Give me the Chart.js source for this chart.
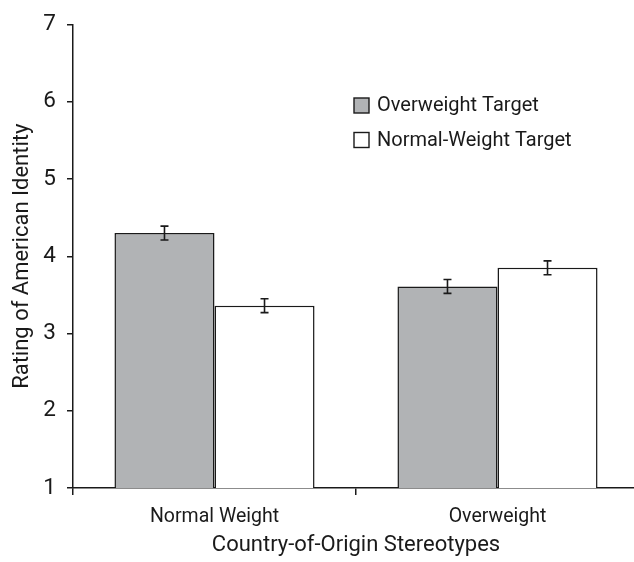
<!DOCTYPE html>
<html>
<head>
<meta charset="utf-8">
<script src="https://cdn.jsdelivr.net/npm/chart.js@4"></script>
<style>
    html, body { margin: 0; padding: 0; background: #fff; overflow: hidden; }
    #wrap { width: 634px; height: 562px; overflow: hidden; }
</style>
</head>
<body>
<div id="wrap"><canvas id="chart" width="640" height="562"></canvas></div>
<script>
// Data
const categories = ["Normal Weight", "Overweight"];
const seriesNames = ["Overweight Target", "Normal-Weight Target"];
const overweightTarget = [4.30, 3.61];
const normalWeightTarget = [3.36, 3.85];
const overweightErr = [0.09, 0.09];
const normalWeightErr = [0.09, 0.09];
const yTicks = [1, 2, 3, 4, 5, 6, 7];

const FONT = "'Liberation Sans Narrow', 'Arial Narrow', 'Roboto', 'Liberation Sans', sans-serif";
const INK = "#1a1a1a";

// error bars drawn from the bar elements and y scale
const errorBars = {
    id: "errorBars",
    afterDatasetsDraw(chart) {
        const ctx = chart.ctx;
        const y = chart.scales.y;
        chart.data.datasets.forEach(function (ds, i) {
            const meta = chart.getDatasetMeta(i);
            meta.data.forEach(function (bar, j) {
                const v = ds.data[j];
                const e = ds.errors[j];
                const top = y.getPixelForValue(v + e);
                const bot = y.getPixelForValue(v - e);
                ctx.save();
                ctx.strokeStyle = INK;
                ctx.lineWidth = 1.6;
                ctx.beginPath();
                ctx.moveTo(bar.x, top);
                ctx.lineTo(bar.x, bot);
                ctx.moveTo(bar.x - 4, top);
                ctx.lineTo(bar.x + 4, top);
                ctx.moveTo(bar.x - 4, bot);
                ctx.lineTo(bar.x + 4, bot);
                ctx.stroke();
                ctx.restore();
            });
        });
    }
};

// simple legend inside the plot
const boxLegend = {
    id: "boxLegend",
    afterDraw(chart) {
        const ctx = chart.ctx;
        ctx.save();
        ctx.font = "20px " + FONT;
        ctx.textBaseline = "middle";
        chart.data.datasets.forEach(function (ds, i) {
            const bx = 354, by = 98 + i * 34.5;
            ctx.fillStyle = ds.backgroundColor;
            ctx.fillRect(bx, by, 15, 15);
            ctx.strokeStyle = INK;
            ctx.lineWidth = 1.4;
            ctx.strokeRect(bx, by, 15, 15);
            ctx.fillStyle = INK;
            ctx.fillText(ds.label, 377, by + 8);
        });
        ctx.restore();
    }
};

new Chart(document.getElementById("chart"), {
    type: "bar",
    data: {
        labels: categories,
        datasets: [
            {
                label: seriesNames[0],
                data: overweightTarget,
                errors: overweightErr,
                backgroundColor: "#b1b3b5",
                borderColor: INK,
                borderWidth: 1.5
            },
            {
                label: seriesNames[1],
                data: normalWeightTarget,
                errors: normalWeightErr,
                backgroundColor: "#ffffff",
                borderColor: INK,
                borderWidth: 1.5
            }
        ]
    },
    options: {
        responsive: false,
        animation: false,
        layout: { padding: { top: 21, right: 1, left: 0, bottom: 0 } },
        datasets: { bar: { barPercentage: 1, categoryPercentage: 0.707 } },
        plugins: {
            legend: { display: false },
            tooltip: { enabled: false }
        },
        scales: {
            x: {
                grid: { drawOnChartArea: false, tickLength: 7, color: INK, lineWidth: 1.5, offset: true },
                border: { color: INK, width: 1.5 },
                ticks: { color: INK, font: { family: FONT, size: 19.5 }, padding: 10 },
                title: {
                    display: true,
                    text: "Country-of-Origin Stereotypes",
                    color: INK,
                    font: { family: FONT, size: 22 },
                    padding: { top: 0, bottom: 3 }
                },
                afterFit(scale) { scale.height = 74; }
            },
            y: {
                min: 1,
                max: 7,
                afterBuildTicks(scale) { scale.ticks = yTicks.map(function (v) { return { value: v }; }); },
                grid: { drawOnChartArea: false, tickLength: 6, color: INK, lineWidth: 1.5 },
                border: { color: INK, width: 1.5 },
                ticks: { color: INK, font: { family: FONT, size: 22.5 }, padding: 11 },
                title: {
                    display: true,
                    text: "Rating of American Identity",
                    color: INK,
                    font: { family: FONT, size: 22 },
                    padding: { top: 9, bottom: 0 }
                },
                afterFit(scale) { scale.width = 73; }
            }
        }
    },
    plugins: [errorBars, boxLegend]
});
</script>
</body>
</html>
